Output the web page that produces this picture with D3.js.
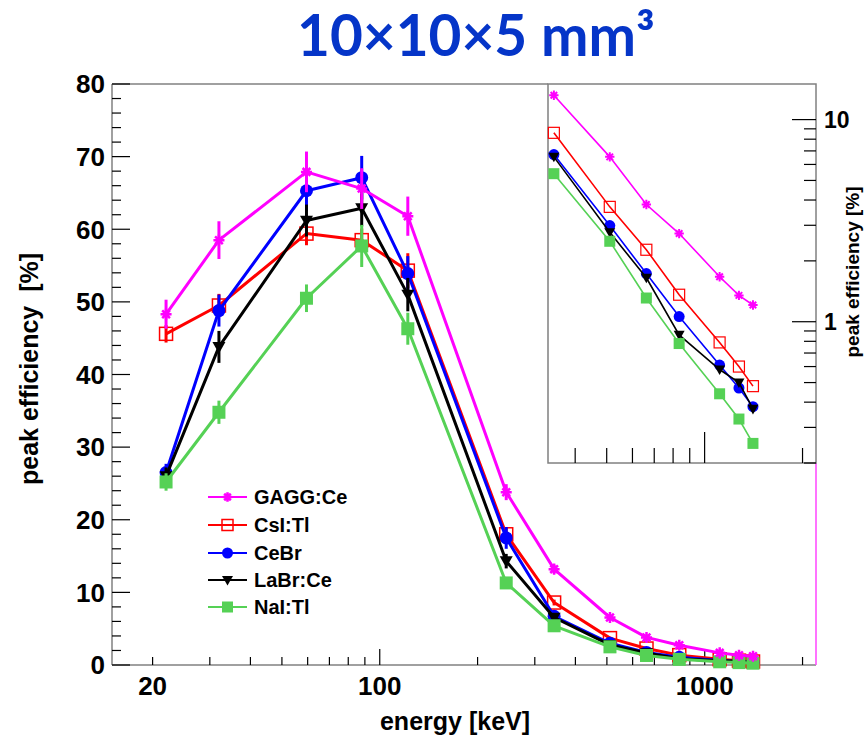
<!DOCTYPE html>
<html>
<head>
<meta charset="utf-8">
<script src="https://cdn.jsdelivr.net/npm/d3@7"></script>
<style>
  body { margin: 0; background: #fff; }
  svg { display: block; }
  text { font-family: "Liberation Sans", Arial, Helvetica, sans-serif; font-weight: bold; }
</style>
</head>
<body>
<svg id="chart" width="867" height="737"></svg>
<script>
// Photon energies of the calibration lines (keV)
const energies = [22, 32, 59.5, 88, 122, 245, 344, 511, 662, 835, 1112, 1275, 1408];

// Full-energy peak efficiency (%) per crystal, and its uncertainty
const gaggEff = [48.3, 58.5, 67.9, 65.6, 61.8, 23.8, 13.2, 6.54, 3.80, 2.73, 1.67, 1.35, 1.21];
const gaggErr = [2.0, 2.6, 2.8, 2.8, 2.7, 1.1, 0.6, 0.3, 0.2, 0.15, 0.1, 0.08, 0.07];
const csiEff  = [45.6, 49.5, 59.4, 58.5, 54.3, 18.0, 8.60, 3.70, 2.27, 1.36, 0.79, 0.60, 0.48];
const csiErr  = [1.2, 1.6, 1.6, 1.6, 2.4, 1.0, 0.4, 0.2, 0.12, 0.08, 0.05, 0.04, 0.03];
const cebrEff = [26.5, 48.8, 65.3, 67.1, 53.9, 17.5, 6.71, 2.99, 1.73, 1.06, 0.61, 0.47, 0.38];
const cebrErr = [1.2, 2.2, 2.8, 3.0, 2.4, 1.5, 0.4, 0.2, 0.1, 0.07, 0.05, 0.04, 0.03];
const labrEff = [26.0, 43.8, 61.2, 62.9, 51.0, 14.3, 6.54, 2.77, 1.65, 0.86, 0.58, 0.50, 0.37];
const labrErr = [1.2, 2.2, 2.2, 2.5, 2.3, 1.0, 0.4, 0.2, 0.1, 0.06, 0.04, 0.04, 0.03];
const naiEff  = [25.2, 34.8, 50.5, 57.7, 46.3, 11.3, 5.40, 2.50, 1.31, 0.78, 0.44, 0.33, 0.25];
const naiErr  = [1.2, 1.6, 1.9, 2.9, 2.2, 0.8, 0.3, 0.15, 0.08, 0.05, 0.03, 0.03, 0.02];

const seriesNames  = ["GAGG:Ce", "CsI:Tl", "CeBr", "LaBr:Ce", "NaI:Tl"];
const seriesColors = ["#ff00ff", "#ff0000", "#0000ff", "#000000", "#55d155"];
const seriesMarks  = ["star", "openSquare", "circle", "triDown", "square"];

// Axis ranges and tick labels
const mainXDomain = [15, 2200];
const mainYDomain = [0, 80];
const mainYTicks = [0, 10, 20, 30, 40, 50, 60, 70, 80];
const mainXLabels = [20, 100, 1000];
const insetXDomain = [330, 2200];
const insetYDomain = [0.2, 15];
const insetYLabels = [1, 10];

const series = seriesNames.map((name, i) => ({
  name,
  color: seriesColors[i],
  mark: seriesMarks[i],
  eff: [gaggEff, csiEff, cebrEff, labrEff, naiEff][i],
  err: [gaggErr, csiErr, cebrErr, labrErr, naiErr][i]
}));
// Drawing order: GAGG last so it sits on top
const drawOrder = [1, 2, 3, 4, 0];

const svg = d3.select("#chart");
const FRAME = "#808080";

// ---------- main panel ----------
const M = { left: 112, right: 816, top: 84, bottom: 665 };
const x = d3.scaleLog().domain(mainXDomain).range([M.left, M.right]);
const y = d3.scaleLinear().domain(mainYDomain).range([M.bottom, M.top]);

function drawMarker(g, type, cx, cy, s, color, sw) {
  const h = s / 2;
  if (type === "circle") {
    g.append("circle").attr("cx", cx).attr("cy", cy).attr("r", h).attr("fill", color);
  } else if (type === "square") {
    g.append("rect").attr("x", cx - h).attr("y", cy - h).attr("width", s).attr("height", s).attr("fill", color);
  } else if (type === "openSquare") {
    g.append("rect").attr("x", cx - h).attr("y", cy - h).attr("width", s).attr("height", s)
      .attr("fill", "none").attr("stroke", color).attr("stroke-width", sw * 0.6);
  } else if (type === "triDown") {
    g.append("path")
      .attr("d", `M${cx - h},${cy - h * 0.75}L${cx + h},${cy - h * 0.75}L${cx},${cy + h}Z`)
      .attr("fill", color);
  } else if (type === "star") {
    const r = h * 0.85, d = r * 0.7;
    g.append("path")
      .attr("d", `M${cx - r},${cy}L${cx + r},${cy}M${cx},${cy - r}L${cx},${cy + r}` +
                 `M${cx - d},${cy - d}L${cx + d},${cy + d}M${cx - d},${cy + d}L${cx + d},${cy - d}`)
      .attr("stroke", color).attr("stroke-width", sw).attr("fill", "none");
  }
}

// main frame
svg.append("line").attr("x1", M.left).attr("x2", 548).attr("y1", M.top).attr("y2", M.top)
  .attr("stroke", FRAME).attr("stroke-width", 1.5);
svg.append("line").attr("x1", M.left).attr("x2", M.left).attr("y1", M.top).attr("y2", M.bottom)
  .attr("stroke", FRAME).attr("stroke-width", 1.5);
svg.append("line").attr("x1", M.left).attr("x2", M.right).attr("y1", M.bottom).attr("y2", M.bottom)
  .attr("stroke", FRAME).attr("stroke-width", 1.5);
svg.append("line").attr("x1", M.right).attr("x2", M.right).attr("y1", 463).attr("y2", M.bottom)
  .attr("stroke", "#ff44ff").attr("stroke-width", 1.5);

// y ticks (majors every 10, minors every 2)
const yAxisG = svg.append("g").attr("stroke", "#000").attr("stroke-width", 1.2);
d3.range(0, 81, 2).forEach(v => {
  const major = v % 10 === 0;
  yAxisG.append("line").attr("x1", M.left).attr("x2", M.left + (major ? 18 : 9))
    .attr("y1", y(v)).attr("y2", y(v));
});
svg.append("g").selectAll("text").data(mainYTicks).join("text")
  .attr("x", M.left - 7).attr("y", d => y(d)).attr("dy", "0.36em")
  .attr("text-anchor", "end").attr("font-size", 26).text(d => d);

// x ticks (log decades)
const xAxisG = svg.append("g").attr("stroke", "#000").attr("stroke-width", 1.2);
x.ticks().filter(v => v >= mainXDomain[0] && v <= mainXDomain[1]).forEach(v => {
  const major = Math.abs(Math.log10(v) - Math.round(Math.log10(v))) < 1e-9;
  xAxisG.append("line").attr("x1", x(v)).attr("x2", x(v))
    .attr("y1", M.bottom).attr("y2", M.bottom - (major ? 16 : 8));
});
svg.append("g").selectAll("text").data(mainXLabels).join("text")
  .attr("x", d => x(d)).attr("y", 695)
  .attr("text-anchor", "middle").attr("font-size", 26).text(d => d);

// axis titles
svg.append("text").attr("x", 455).attr("y", 730).attr("text-anchor", "middle")
  .attr("font-size", 25).text("energy [keV]");
svg.append("text").attr("transform", "translate(38,369) rotate(-90)")
  .attr("text-anchor", "middle").attr("font-size", 25)
  .style("white-space", "pre").text("peak efficiency  [%]");

// series in the main panel
const mainLine = d3.line().x(d => x(d[0])).y(d => y(d[1]));
drawOrder.forEach(i => {
  const s = series[i];
  const g = svg.append("g");
  const pts = energies.map((e, k) => [e, s.eff[k], s.err[k]]);
  g.append("path").attr("d", mainLine(pts)).attr("fill", "none")
    .attr("stroke", s.color).attr("stroke-width", 3).attr("stroke-linejoin", "round");
  pts.forEach(p => {
    g.append("line").attr("x1", x(p[0])).attr("x2", x(p[0]))
      .attr("y1", y(p[1] - p[2])).attr("y2", y(p[1] + p[2]))
      .attr("stroke", s.color).attr("stroke-width", 3);
  });
  pts.forEach(p => drawMarker(g, s.mark, x(p[0]), y(p[1]), 13, s.color, 2.5));
});

// legend
const legendY = [497, 525, 553, 580, 607];
series.forEach((s, i) => {
  const g = svg.append("g");
  g.append("line").attr("x1", 208).attr("x2", 247).attr("y1", legendY[i]).attr("y2", legendY[i])
    .attr("stroke", s.color).attr("stroke-width", 2);
  drawMarker(g, s.mark, 227.5, legendY[i], 11, s.color, 2.5);
  g.append("text").attr("x", 254).attr("y", legendY[i]).attr("dy", "0.36em")
    .attr("font-size", 20).text(s.name);
});

// ---------- inset (log-log, high-energy range) ----------
const I = { left: 548, right: 816, top: 84, bottom: 463 };
const xi = d3.scaleLog().domain(insetXDomain).range([I.left, I.right]);
const yi = d3.scaleLog().domain(insetYDomain).range([I.bottom, I.top]);

svg.append("rect").attr("x", I.left).attr("y", I.top)
  .attr("width", I.right - I.left).attr("height", I.bottom - I.top)
  .attr("fill", "#fff").attr("stroke", FRAME).attr("stroke-width", 1.5);

const insetTicks = svg.append("g").attr("stroke", "#000").attr("stroke-width", 1.2);
xi.ticks().filter(v => v >= insetXDomain[0] && v <= insetXDomain[1]).forEach(v => {
  const major = Math.abs(Math.log10(v) - Math.round(Math.log10(v))) < 1e-9;
  insetTicks.append("line").attr("x1", xi(v)).attr("x2", xi(v))
    .attr("y1", I.bottom).attr("y2", I.bottom - (major ? 31 : 15));
});
yi.ticks().filter(v => v >= insetYDomain[0] && v <= insetYDomain[1]).forEach(v => {
  const major = Math.abs(Math.log10(v) - Math.round(Math.log10(v))) < 1e-9;
  insetTicks.append("line").attr("x1", I.right).attr("x2", I.right - (major ? 24 : 12))
    .attr("y1", yi(v)).attr("y2", yi(v));
});
svg.append("g").selectAll("text").data(insetYLabels).join("text")
  .attr("x", I.right + 8).attr("y", d => yi(d)).attr("dy", "0.36em")
  .attr("font-size", 23).text(d => d);
svg.append("text").attr("transform", "translate(859,272) rotate(-90)")
  .attr("text-anchor", "middle").attr("font-size", 19).text("peak efficiency [%]");

const insetLine = d3.line().x(d => xi(d[0])).y(d => yi(d[1]));
drawOrder.forEach(i => {
  const s = series[i];
  const g = svg.append("g");
  const pts = energies.map((e, k) => [e, s.eff[k]]).filter(p => p[0] >= insetXDomain[0]);
  g.append("path").attr("d", insetLine(pts)).attr("fill", "none")
    .attr("stroke", s.color).attr("stroke-width", 1.6);
  pts.forEach(p => drawMarker(g, s.mark, xi(p[0]), yi(p[1]), 11, s.color, 2));
});

// ---------- title ----------
const title = svg.append("text").attr("x", 297).attr("y", 56)
  .style("font-family", "Lato, 'Open Sans', sans-serif").style("font-weight", "bold")
  .attr("font-size", 52).attr("fill", "#0535c8").text("10×10×5 mm³");
const tw = title.node().getComputedTextLength();
title.attr("font-size", 52 * 358 / tw);
</script>
</body>
</html>
